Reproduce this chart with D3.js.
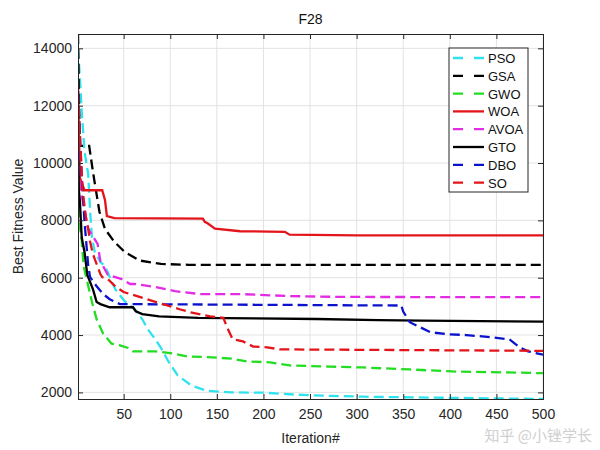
<!DOCTYPE html>
<html><head><meta charset="utf-8">
<script src="https://cdn.jsdelivr.net/npm/d3@7"></script>
<style>body{margin:0;background:#fff}svg{display:block;font-family:"Liberation Sans",Arial,sans-serif}</style>
</head><body>
<svg id="c" width="600" height="450"></svg>
<script>
const seriesNames = ["PSO","GSA","GWO","WOA","AVOA","GTO","DBO","SO"];
const seriesColors = ["#2fe3ee","#000000","#22dd22","#e3141a","#e42ce4","#000000","#0a12cc","#e3141a"];
const seriesDashed = [true,true,true,false,true,false,true,true];
const xTicks = [50,100,150,200,250,300,350,400,450,500];
const yTicks = [2000,4000,6000,8000,10000,12000,14000];

const PSO = [[1,14000],[3,13000],[5,11800],[8,10400],[12,9600],[14,8300],[16,7400],[19,6900],[25,6550],[30,6400],[41,5600],[51,5180],[62,4900],[70,4550],[76,4200],[84,3850],[91,3500],[98,3080],[108,2590],[123,2235],[139,2060],[166,2000],[200,1990],[236,1920],[271,1880],[307,1850],[400,1810],[500,1770]];
const GSA = [[1,14500],[2,12200],[3,10600],[13,10600],[17,9700],[21,8900],[24,8300],[30,7700],[40,7250],[51,6900],[67,6600],[90,6480],[120,6450],[500,6450]];
const GWO = [[1,9500],[2,8200],[3,7800],[5,7300],[7,6400],[11,5850],[16,5150],[21,4550],[28,4050],[37,3700],[45,3650],[55,3550],[60,3430],[84,3430],[102,3360],[119,3250],[140,3230],[166,3180],[182,3080],[207,3050],[228,2940],[271,2900],[307,2870],[357,2800],[403,2730],[457,2700],[500,2670]];
const WOA = [[1,12800],[2,11000],[3,9500],[5,9300],[8,9050],[27,9050],[30,8700],[32,8150],[40,8080],[135,8060],[137,7950],[140,7900],[148,7710],[175,7620],[223,7600],[228,7500],[300,7480],[500,7480]];
const AVOA = [[1,12000],[2,10000],[4,9000],[6,8700],[12,7700],[22,7180],[25,6580],[33,6100],[48,5950],[57,5780],[62,5780],[84,5680],[105,5530],[132,5430],[175,5430],[228,5360],[282,5330],[500,5320]];
const GTO = [[1,10500],[2,9000],[3,8700],[5,7400],[8,6900],[11,6100],[17,5600],[21,5150],[25,5080],[35,4970],[60,4970],[63,4830],[70,4730],[88,4650],[130,4600],[190,4580],[257,4560],[323,4520],[370,4500],[500,4470]];
const DBO = [[1,12500],[3,11000],[5,9500],[7,8500],[8,7950],[12,6400],[14,6020],[21,5700],[28,5430],[35,5250],[46,5080],[348,5030],[350,4820],[357,4450],[379,4100],[397,4030],[418,4000],[446,3920],[464,3850],[475,3570],[484,3430],[500,3320]];
const SO = [[1,12500],[3,11000],[6,9000],[10,8000],[12,7700],[14,7250],[17,6830],[19,6650],[25,6130],[27,6020],[33,5950],[41,5700],[50,5500],[60,5400],[75,5250],[95,5050],[110,4900],[121,4800],[143,4650],[157,4600],[161,4270],[167,3850],[178,3780],[189,3600],[204,3570],[218,3500],[500,3450]];
const seriesData = [PSO,GSA,GWO,WOA,AVOA,GTO,DBO,SO];

const svg = d3.select("#c");
const L=78,R=543,T=34,B=399;
const x = d3.scaleLinear().domain([1,500]).range([L,R]);
const y = d3.scaleLinear().domain([1770,14500]).range([B,T]);

// grid
const g = svg.append("g");
g.selectAll(".gx").data(xTicks).enter().append("line")
  .attr("x1",d=>x(d)).attr("x2",d=>x(d)).attr("y1",T).attr("y2",B)
  .attr("stroke","#e3e3e3").attr("stroke-width",1);
g.selectAll(".gy").data(yTicks).enter().append("line")
  .attr("x1",L).attr("x2",R).attr("y1",d=>y(d)).attr("y2",d=>y(d))
  .attr("stroke","#e3e3e3").attr("stroke-width",1);

// lines
svg.append("clipPath").attr("id","cp").append("rect").attr("x",L).attr("y",T).attr("width",R-L).attr("height",B-T);
const line = d3.line().x(d=>x(d[0])).y(d=>y(d[1]));
seriesData.forEach((s,i)=>{
  svg.append("path").attr("d",line(s)).attr("fill","none")
    .attr("clip-path","url(#cp)")
    .attr("stroke",seriesColors[i]).attr("stroke-width",2.3)
    .attr("stroke-dasharray",seriesDashed[i]?"10,5":null);
});

// axes
const fontSize = 14;
const ax = svg.append("g").attr("transform",`translate(0,${B})`)
  .call(d3.axisBottom(x).tickValues(xTicks).tickSize(-5).tickPadding(10));
const ay = svg.append("g").attr("transform",`translate(${L},0)`)
  .call(d3.axisLeft(y).tickValues(yTicks).tickSize(-5).tickPadding(6).tickFormat(d3.format("d")));
const axT = svg.append("g").attr("transform",`translate(0,${T})`)
  .call(d3.axisTop(x).tickValues(xTicks).tickSize(-5).tickFormat(""));
const ayR = svg.append("g").attr("transform",`translate(${R},0)`)
  .call(d3.axisRight(y).tickValues(yTicks).tickSize(-5).tickFormat(""));
[ax,ay,axT,ayR].forEach(a=>{
  a.selectAll("path").attr("stroke","#262626").attr("stroke-width",1);
  a.selectAll("line").attr("stroke","#262626");
  a.selectAll("text").attr("font-size",fontSize).attr("fill","#262626").attr("font-family","Liberation Sans, Arial, sans-serif");
});

svg.append("text").attr("x",(L+R)/2).attr("y",24).attr("text-anchor","middle")
  .attr("font-size",14).attr("fill","#111").text("F28");
svg.append("text").attr("x",(L+R)/2).attr("y",443).attr("text-anchor","middle")
  .attr("font-size",14).attr("fill","#262626").text("Iteration#");
svg.append("text").attr("transform",`translate(23,${(T+B)/2}) rotate(-90)`).attr("text-anchor","middle")
  .attr("font-size",14).attr("fill","#262626").text("Best Fitness Value");

// legend
const lg = svg.append("g");
lg.append("rect").attr("x",449).attr("y",48).attr("width",79).attr("height",144)
  .attr("fill","#fff").attr("stroke","#262626").attr("stroke-width",1);
seriesNames.forEach((n,i)=>{
  const yy = 58 + i*17.8;
  lg.append("line").attr("x1",453).attr("x2",484).attr("y1",yy).attr("y2",yy)
    .attr("stroke",seriesColors[i]).attr("stroke-width",2.3)
    .attr("stroke-dasharray",seriesDashed[i]?"10,11":null);
  lg.append("text").attr("x",488).attr("y",yy+5).attr("font-size",13).attr("fill","#111").text(n);
});

// watermark
svg.append("text").attr("x",592).attr("y",441).attr("text-anchor","end")
  .attr("font-size",15).attr("fill","#c8c8c8").attr("opacity",0.85)
  .attr("font-family","Noto Sans CJK SC, sans-serif").text("知乎 @小锉学长");
</script>
</body></html>
